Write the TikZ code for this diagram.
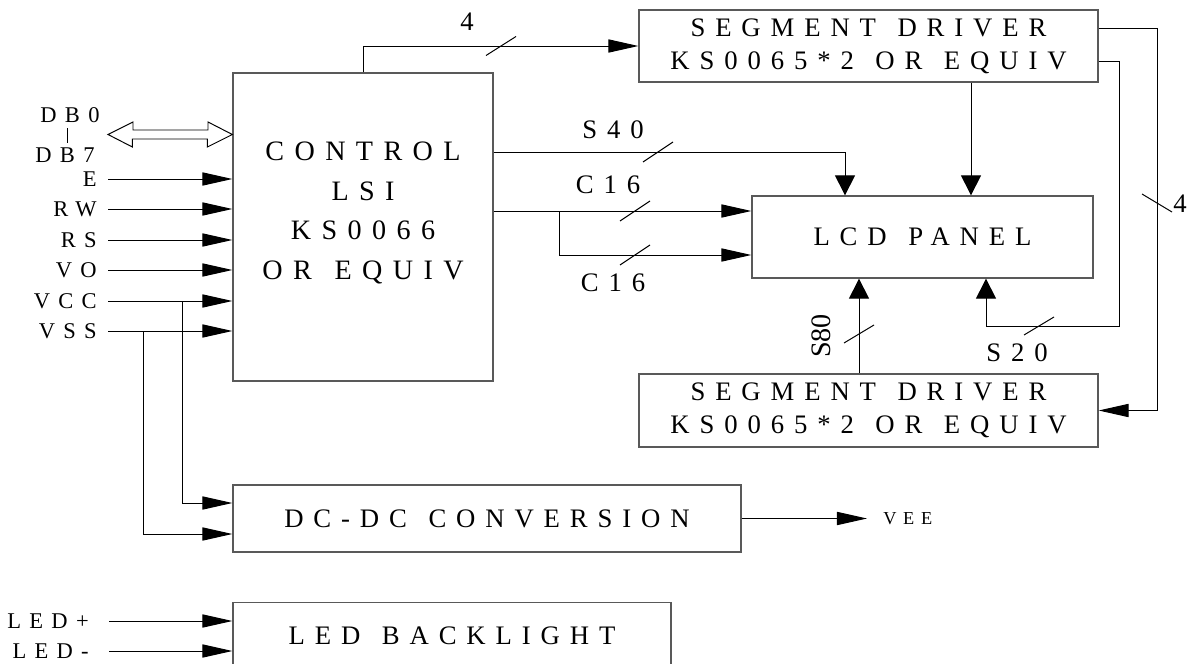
\documentclass[tikz,border=0pt]{standalone}
\usepackage{fontspec}
\setmainfont{Liberation Serif}
\newfontfamily\spaced{Liberation Serif}[LetterSpace=37,WordSpace=1.3]
\usetikzlibrary{arrows.meta,calc,positioning}
\newlength\px
\setlength\px{0.025cm}
% short slanted stroke across a bus line
\newcommand\busmark[3]{\draw[wire] ($(#1)-(#2,#3)$) -- ($(#1)+(#2,#3)$);}
\tikzset{
  wire/.style={line width=0.7pt},
  tohoriz/.style={wire,-{Triangle[length=0.75cm,width=0.33cm]}},
  tovert/.style={wire,-{Triangle[length=0.5cm,width=0.5cm]}},
  block/.style={draw=black!65,line width=0.9pt,inner sep=0pt,align=center,
    font=\spaced\fontsize{19}{23.4}\selectfont},
  pinlabel/.style={inner sep=0pt,font=\spaced\fontsize{16}{18}\selectfont},
  buslabel/.style={inner sep=0pt,font=\spaced\fontsize{19}{20}\selectfont},
}
\begin{document}
\begin{tikzpicture}[x=0.025cm,y=-0.025cm]
\useasboundingbox (0,0) rectangle (1193,664);

% blocks
\node[block,minimum width=260*\px,minimum height=308*\px,
  label={[font=\spaced\fontsize{20}{28}\selectfont,align=center,yshift=0.35cm]center:CONTROL\\LSI\\KS0066\\OR EQUIV}] (ctrl) at (363,227) {};
\node[block,minimum width=459*\px,minimum height=72*\px] (seg1) at (868.5,46) {SEGMENT DRIVER\\KS0065*2 OR EQUIV};
\node[block,minimum width=341*\px,minimum height=82*\px] (lcd) at (922.5,237) {LCD PANEL};
\node[block,minimum width=459*\px,minimum height=73*\px] (seg2) at (868.5,410.5) {SEGMENT DRIVER\\KS0065*2 OR EQUIV};
\node[block,minimum width=508*\px,minimum height=67*\px] (dcdc) at (487,518.5) {DC-DC CONVERSION};
\node[block,minimum width=438*\px,minimum height=67*\px] (led) at (452,636) {LED BACKLIGHT};

% data bus
\node[pinlabel] (db0) at (70,115) {DB0};
\node[pinlabel] (db7) at (65,155) {DB7};
\draw[wire] (67,128) -- (67,143);
\coordinate (dbus) at (108,134.5);
\draw[wire,fill=white] (dbus) -- ++(25,-12.5) -- ++(0,8) -- ++(75,0) -- ++(0,-8)
  -- (ctrl.west |- dbus) -- ++(-25,12.5) -- ++(0,-8) -- ++(-75,0) -- ++(0,8) -- cycle;

% control inputs
\foreach \sig/\yy [count=\i] in {E/179,RW/209,RS/240,VO/270,VCC/301,VSS/331}{
  \coordinate (in\i) at (108,\yy);
  \node[pinlabel,left=0.275cm of in\i] (pin\i) {\sig};
  \draw[tohoriz] (in\i) -- (ctrl.west |- in\i);
}
\draw[tohoriz] (in5 -| 182,0) |- (dcdc.west |- 0,503);
\draw[tohoriz] (in6 -| 143,0) |- (dcdc.west |- 0,534);

% backlight inputs
\foreach \sig/\yy [count=\i] in {LED+/621,LED-/651}{
  \coordinate (ledin\i) at (109,\yy);
  \node[pinlabel,left=0.5cm of ledin\i] (ledpin\i) {\sig};
  \draw[tohoriz] (ledin\i) -- (led.west |- ledin\i);
}

% VEE output
\node[pinlabel,font=\spaced\fontsize{13}{15}\selectfont,anchor=west] (vee) at (883,518.5) {VEE};
\draw[tohoriz,shorten >=0.4cm] (dcdc.east) -- (vee.west);

% control to segment driver
\draw[tohoriz] (ctrl.north) |- (seg1.west);
\coordinate (bus4) at (501,46);
\busmark{bus4}{15}{-9.5}
\node[buslabel] (n4) at (467,22) {4};

% control to panel
\draw[tovert] (ctrl.east |- 0,152) -| (lcd.north -| 845,0);
\coordinate (bus40) at (658,152);
\busmark{bus40}{15}{-10}
\node[buslabel] (ns40) at (613,130) {S40};

\coordinate (c16split) at (559,211);
\draw[tohoriz] (ctrl.east |- c16split) -- (lcd.west |- c16split);
\draw[tohoriz] (c16split) |- (lcd.west |- 0,255);
\coordinate (bus16a) at (635,211);
\coordinate (bus16b) at (635,255);
\busmark{bus16a}{15}{-10}
\busmark{bus16b}{15}{-10}
\node[buslabel] (nc16a) at (608,185) {C16};
\node[buslabel] (nc16b) at (613,283) {C16};

% drivers to panel
\draw[tovert] (seg1.south -| 971,0) -- (lcd.north -| 971,0);
\draw[tovert] (seg2.north -| 859,0) -- (lcd.south -| 859,0);
\coordinate (bus80) at (859,334);
\busmark{bus80}{15}{-9}
\node[inner sep=0pt,font=\fontsize{20}{22}\selectfont,rotate=90] (ns80) at (821,336) {S80};

\coordinate (s20turn) at (1119,326);
\draw[tovert] (seg1.east |- 0,61) -| (s20turn) -| (lcd.south -| 986,0);
\coordinate (bus20) at (1039,326);
\busmark{bus20}{15}{-9}
\node[buslabel] (ns20) at (1017,353) {S20};

% driver to driver
\coordinate (s4turn) at (1157,410.5);
\draw[tohoriz] (seg1.east |- 0,28) -| (s4turn) -- (seg2.east);
\coordinate (bus4r) at (1157,203);
\busmark{bus4r}{15}{9}
\node[buslabel] (n4r) at (1180,204) {4};
\end{tikzpicture}
\end{document}
